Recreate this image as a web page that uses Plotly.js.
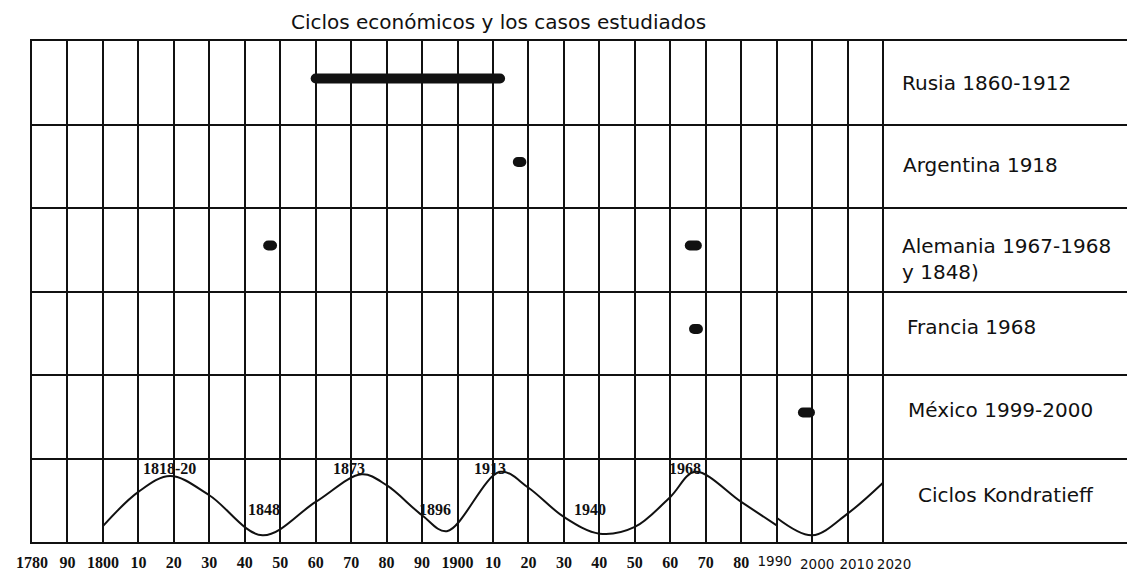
<!DOCTYPE html>
<html>
<head>
<meta charset="utf-8">
<script src="https://cdn.plot.ly/plotly-3.0.1.min.js"></script>
<style>
  html, body { margin: 0; padding: 0; background: #fff; }
  #chart { width: 1127px; height: 573px; }
</style>
</head>
<body>
<div id="chart"></div>
<script>
// ---------------- DATA ----------------
const chartTitle = 'Ciclos económicos y los casos estudiados';

// rows, top to bottom
const rowLabels = [
  'Rusia 1860-1912',
  'Argentina 1918',
  'Alemania 1967-1968<br>y 1848)',
  'Francia 1968',
  'México 1999-2000',
  'Ciclos Kondratieff'
];

// studied cases: [row index, start year, end year]
const caseRows   = [0, 1, 2, 2, 3, 4];
const caseStarts = [1860, 1917, 1846.6, 1965.5, 1966.7, 1997.4];
const caseEnds   = [1912, 1918, 1847.7, 1967.5, 1967.8, 1999.4];

// Kondratieff curve (relative height inside its row, 0..1)
const cycle1Years = [1800, 1810, 1819, 1830, 1845, 1860, 1873, 1880, 1890, 1897, 1912, 1920, 1930, 1940, 1950, 1960, 1967, 1980, 1990];
const cycle1Vals  = [0.19, 0.60, 0.79, 0.56, 0.08, 0.48, 0.81, 0.68, 0.32, 0.13, 0.84, 0.65, 0.30, 0.10, 0.18, 0.54, 0.84, 0.48, 0.20];
const cycle2Years = [1990, 2000, 2010, 2020];
const cycle2Vals  = [0.29, 0.08, 0.34, 0.71];

// turning points labelled on the curve
const turnLabels = ['1818-20', '1848', '1873', '1896', '1913', '1940', '1968'];
const turnYears  = [1819, 1845, 1873, 1897, 1912, 1940, 1967];
const turnIsPeak = [true, false, true, false, true, false, true];

// axis ticks
const serifTickVals = [1780, 1790, 1800, 1810, 1820, 1830, 1840, 1850, 1860, 1870, 1880, 1890, 1900, 1910, 1920, 1930, 1940, 1950, 1960, 1970, 1980];
const serifTickText = ['1780', '90', '1800', '10', '20', '30', '40', '50', '60', '70', '80', '90', '1900', '10', '20', '30', '40', '50', '60', '70', '80'];
const sansTickVals = [1990, 2000, 2010, 2020];
const sansTickText = ['1990', '2000', '2010', '2020'];

// ---------------- BUILD ----------------
const nRows = rowLabels.length;
const INK = '#111';
const X_RANGE = [1780, 2088.8];
const rowY = i => nRows - 1 - i;          // bottom of row i
const MARK_OFF = 0.55;                    // mark height within row

const traces = [];
for (let k = 0; k < caseRows.length; k++) {
  const y = rowY(caseRows[k]) + MARK_OFF;
  traces.push({
    type: 'scatter', mode: 'lines',
    x: [caseStarts[k], caseEnds[k]], y: [y, y],
    line: { color: INK, width: 10 },
    hoverinfo: 'skip', showlegend: false
  });
}
traces.push({
  type: 'scatter', mode: 'lines',
  x: cycle1Years, y: cycle1Vals,
  line: { color: INK, width: 2, shape: 'spline', smoothing: 1 },
  hoverinfo: 'skip', showlegend: false
});
traces.push({
  type: 'scatter', mode: 'lines',
  x: cycle2Years, y: cycle2Vals,
  line: { color: INK, width: 2, shape: 'spline', smoothing: 1 },
  hoverinfo: 'skip', showlegend: false
});

const annotations = [];
// row labels on the right
const labelNudgeX = [-3, -2, -3, 2, 3, 13];
const labelNudgeY = [0, 1, -9, 6, 7, 5];
rowLabels.forEach((t, i) => {
  annotations.push({
    x: 2025.5, y: rowY(i) + 0.5, xref: 'x', yref: 'y',
    text: t, showarrow: false, xanchor: 'left', yanchor: 'middle', align: 'left',
    xshift: labelNudgeX[i], yshift: labelNudgeY[i],
    font: { family: 'DejaVu Sans', size: 20, color: INK }
  });
});
// curve labels
const turnNudgeX = [-1, 2, -13, -12, -10, -9, -10];
turnLabels.forEach((t, i) => {
  annotations.push({
    x: turnYears[i], y: turnIsPeak[i] ? 0.886 : 0.395, xref: 'x', yref: 'y',
    text: t, showarrow: false, xanchor: 'center', yanchor: 'middle',
    xshift: turnNudgeX[i],
    font: { family: 'Liberation Serif', size: 16, color: INK, weight: 'bold' }
  });
});

const baseX = {
  range: X_RANGE, fixedrange: true, zeroline: false,
  showgrid: true, gridcolor: INK, gridwidth: 2,
  ticks: '', tickmode: 'array', tickangle: 0
};

const layout = {
  width: 1127, height: 573,
  margin: { l: 32, r: 0, t: 41, b: 31, pad: 0 },
  paper_bgcolor: '#fff', plot_bgcolor: '#fff',
  showlegend: false,
  title: {
    text: chartTitle,
    x: 498.5 / 1127, xanchor: 'center', xref: 'container',
    y: 1 - 22 / 573, yanchor: 'middle', yref: 'container',
    font: { family: 'DejaVu Sans', size: 20, color: INK }
  },
  xaxis: Object.assign({}, baseX, {
    tickvals: serifTickVals, ticktext: serifTickText,
    showline: true, linecolor: INK, linewidth: 2, mirror: true,
    ticklabelstandoff: 5,
    tickfont: { family: 'Liberation Serif', size: 16, color: INK, weight: 'bold' }
  }),
  yaxis: {
    range: [0, nRows], fixedrange: true, zeroline: false,
    tickmode: 'array', tickvals: Array.from({ length: nRows + 1 }, (_, i) => i),
    showticklabels: false, ticks: '',
    showgrid: true, gridcolor: INK, gridwidth: 2,
    showline: true, linecolor: INK, linewidth: 2
  },
  annotations: annotations
};

// one overlaying axis per sans-serif tick label (each nudged like the original)
const sansShift    = [-2, 5, 9, 11];
const sansStandoff = [9, 12, 12, 12];
sansTickVals.forEach((v, i) => {
  const n = i + 2;
  layout['xaxis' + n] = Object.assign({}, baseX, {
    overlaying: 'x', anchor: 'y', side: 'bottom',
    tickvals: [v], ticktext: [sansTickText[i]],
    showline: false, ticklabelstandoff: sansStandoff[i], ticklabelshift: sansShift[i],
    tickfont: { family: 'DejaVu Sans', size: 13.5, color: INK }
  });
  traces.push({ type: 'scatter', mode: 'markers', x: [X_RANGE[0]], y: [0], xaxis: 'x' + n,
    marker: { opacity: 0 }, hoverinfo: 'skip', showlegend: false });
});

Plotly.newPlot('chart', traces, layout, { staticPlot: true, displayModeBar: false }).then(gd => {
  // rounded ends for the case bars
  gd.querySelectorAll('.scatterlayer .trace').forEach((tr, idx) => {
    if (idx < caseRows.length) {
      tr.querySelectorAll('path.js-line').forEach(p => p.style.strokeLinecap = 'round');
    }
  });
});
</script>
</body>
</html>
